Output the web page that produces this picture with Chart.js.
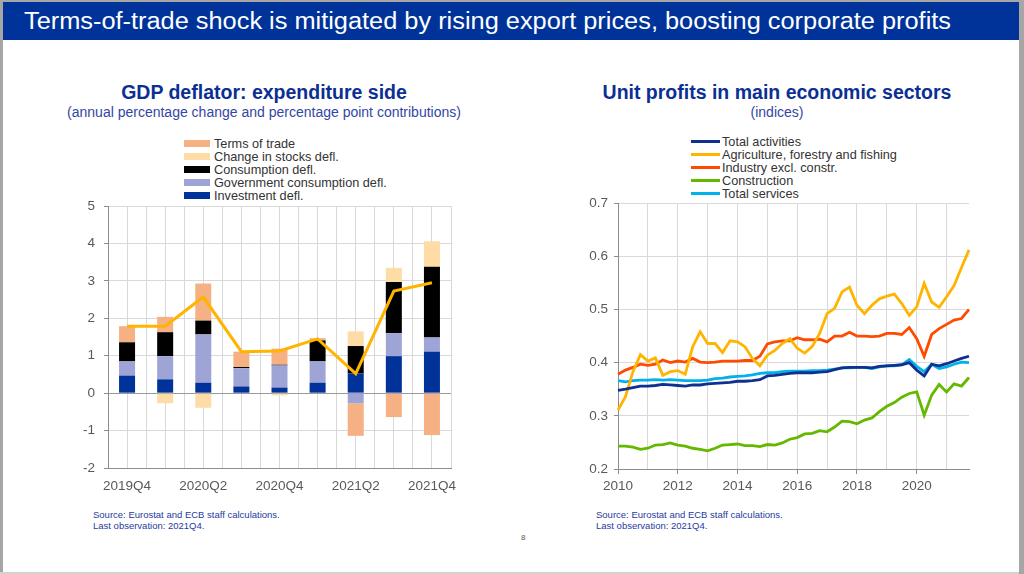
<!DOCTYPE html>
<html>
<head>
<meta charset="utf-8">
<script src="https://cdn.jsdelivr.net/npm/chart.js@4.4.1/dist/chart.umd.min.js"></script>
<style>
  body { margin: 0; width: 1024px; height: 574px; background: #a6a6a6; overflow: hidden;
         font-family: "Liberation Sans", Arial, sans-serif; position: relative; }
  #slide { position: absolute; left: 3px; top: 2px; width: 1016px; height: 570px; background: #fff; }
  #bottomline { position: absolute; left: 0; top: 572px; width: 1019px; height: 2px; background: #d2d2d2; }
  #header { position: absolute; left: 3px; top: 2px; width: 1016px; height: 38px; background: #003399; }
  #headtitle { position: absolute; left: 21px; top: 0; line-height: 38px; color: #fff; font-size: 23px;
               white-space: nowrap; transform-origin: 0 50%; }
  .ctitle { position: absolute; width: 500px; text-align: center; color: #0b2f93; font-weight: bold;
            font-size: 19.5px; white-space: nowrap; }
  .csub { position: absolute; width: 500px; text-align: center; color: #3346a6; font-size: 14px; white-space: nowrap; }
  .legend { position: absolute; font-size: 12.7px; color: #333; }
  .legend div { height: 12.9px; line-height: 12.9px; white-space: nowrap; position: relative; }
  .legend .box { display: inline-block; width: 26px; height: 7px; vertical-align: middle; margin-right: 4px; position: relative; top: -1px; }
  .legend .ln { display: inline-block; width: 29px; height: 3px; vertical-align: middle; margin-right: 2px; position: relative; top: -1px; }
  .note { position: absolute; font-size: 9.5px; line-height: 11px; color: #1f3a9e; white-space: nowrap; }
  canvas { position: absolute; }
  #page { position: absolute; left: 521px; top: 533px; font-size: 8px; color: #555; }
</style>
</head>
<body>
<div id="slide"></div>
<div id="bottomline"></div>
<div id="header"><span id="headtitle">Terms-of-trade shock is mitigated by rising export prices, boosting corporate profits</span></div>

<div class="ctitle" style="left:14px;top:81px;">GDP deflator: expenditure side</div>
<div class="csub" style="left:14px;top:104px;">(annual percentage change and percentage point contributions)</div>
<div class="ctitle" style="left:527px;top:81px;">Unit profits in main economic sectors</div>
<div class="csub" style="left:527px;top:104px;">(indices)</div>

<div class="legend" id="legLeft" style="left:184px;top:138px;"></div>
<div class="legend" id="legRight" style="left:691px;top:136px;"></div>

<canvas id="gdpChart" width="409" height="305" style="left:58px;top:189px;"></canvas>
<canvas id="profitChart" width="405" height="306" style="left:568px;top:189px;"></canvas>

<div class="note" style="left:93px;top:509px;">Source: Eurostat and ECB staff calculations.<br>Last observation: 2021Q4.</div>
<div class="note" style="left:596px;top:509px;">Source: Eurostat and ECB staff calculations.<br>Last observation: 2021Q4.</div>
<div id="page">8</div>

<script>
// ---- left chart: GDP deflator contributions (pp) ----
const quarters = ['2019Q4', '2020Q1', '2020Q2', '2020Q3', '2020Q4', '2021Q1', '2021Q2', '2021Q3', '2021Q4'];
const investment   = [0.47, 0.37, 0.28, 0.18, 0.15, 0.28, 0.53, 0.99, 1.11];
const government   = [0.38, 0.62, 1.29, 0.49, 0.59, 0.57, -0.27, 0.61, 0.38];
const consumption  = [0.51, 0.64, 0.37, 0.03, 0.02, 0.56, 0.73, 1.37, 1.89];
const stocks       = [0.00, -0.27, -0.39, 0.00, -0.06, 0.00, 0.39, 0.38, 0.68];
const termsOfTrade = [0.43, 0.41, 0.99, 0.41, 0.43, 0.06, -0.87, -0.64, -1.12];
const gdpDeflator  = [1.79, 1.79, 2.57, 1.11, 1.13, 1.45, 0.52, 2.73, 2.95];
const gdpTicks = [-2, -1, 0, 1, 2, 3, 4, 5];

// ---- right chart: unit profits (indices), quarterly 2010Q1-2021Q4 ----
const profitYears = [2010, 2011, 2012, 2013, 2014, 2015, 2016, 2017, 2018, 2019, 2020, 2021];
const totalActivities = [0.348, 0.350, 0.353, 0.356, 0.356, 0.357, 0.359, 0.358, 0.357, 0.356, 0.358, 0.358,
                         0.360, 0.361, 0.362, 0.363, 0.365, 0.365, 0.366, 0.368, 0.375, 0.376, 0.378, 0.380,
                         0.381, 0.381, 0.381, 0.382, 0.383, 0.387, 0.390, 0.391, 0.391, 0.391, 0.390, 0.393,
                         0.394, 0.395, 0.396, 0.400, 0.386, 0.375, 0.397, 0.394, 0.398, 0.403, 0.408, 0.412];
const agriculture = [0.311, 0.336, 0.383, 0.415, 0.403, 0.409, 0.376, 0.383, 0.385, 0.378, 0.430, 0.458,
                     0.436, 0.436, 0.419, 0.441, 0.439, 0.430, 0.408, 0.394, 0.414, 0.423, 0.436, 0.445,
                     0.427, 0.418, 0.430, 0.455, 0.492, 0.502, 0.533, 0.542, 0.508, 0.492, 0.508, 0.520,
                     0.525, 0.529, 0.511, 0.489, 0.505, 0.549, 0.514, 0.504, 0.524, 0.545, 0.579, 0.612];
const industry = [0.378, 0.386, 0.391, 0.397, 0.395, 0.397, 0.405, 0.400, 0.403, 0.401, 0.408, 0.401,
                  0.400, 0.401, 0.403, 0.403, 0.403, 0.404, 0.404, 0.412, 0.435, 0.439, 0.441, 0.441,
                  0.447, 0.443, 0.443, 0.444, 0.439, 0.450, 0.450, 0.457, 0.450, 0.450, 0.449, 0.450,
                  0.455, 0.455, 0.453, 0.466, 0.445, 0.412, 0.453, 0.464, 0.472, 0.480, 0.483, 0.500];
const construction = [0.243, 0.243, 0.241, 0.237, 0.239, 0.245, 0.246, 0.249, 0.245, 0.243, 0.239, 0.237,
                      0.234, 0.239, 0.245, 0.246, 0.247, 0.244, 0.244, 0.242, 0.246, 0.245, 0.249, 0.256,
                      0.259, 0.266, 0.267, 0.272, 0.270, 0.279, 0.290, 0.289, 0.285, 0.292, 0.296, 0.308,
                      0.318, 0.325, 0.335, 0.342, 0.345, 0.301, 0.339, 0.359, 0.345, 0.360, 0.356, 0.372];
const services = [0.366, 0.364, 0.366, 0.367, 0.367, 0.368, 0.367, 0.368, 0.367, 0.366, 0.366, 0.366,
                  0.367, 0.370, 0.371, 0.373, 0.374, 0.375, 0.377, 0.380, 0.381, 0.381, 0.383, 0.384,
                  0.384, 0.384, 0.385, 0.385, 0.386, 0.388, 0.390, 0.390, 0.391, 0.391, 0.389, 0.392,
                  0.394, 0.394, 0.396, 0.406, 0.393, 0.383, 0.397, 0.389, 0.392, 0.397, 0.401, 0.400];

const quarterLabels = [];
profitYears.forEach(y => { for (let q = 1; q <= 4; q++) quarterLabels.push(y + 'Q' + q); });

const tickFont = { family: '"Liberation Sans", Arial, sans-serif', size: 13.5 };
const tickGray = '#595959';
const gridGray = '#d9d9d9';
const axisGray = '#8c8c8c';

// bar series, stacked bottom-up in this order
const barSeries = [
    { label: 'Investment defl.', data: investment, color: '#003299' },
    { label: 'Government consumption defl.', data: government, color: '#9ea5d6' },
    { label: 'Consumption defl.', data: consumption, color: '#000000' },
    { label: 'Change in stocks defl.', data: stocks, color: '#fddca6' },
    { label: 'Terms of trade', data: termsOfTrade, color: '#f5b183' }
];

// legend lists the stack top-down
const legLeft = document.getElementById('legLeft');
barSeries.slice().reverse().forEach(s => {
    legLeft.innerHTML += `<div><span class="box" style="background:${s.color}"></span>${s.label}</div>`;
});

const lineSeries = [
    { label: 'Total activities', data: totalActivities, color: '#10308f' },
    { label: 'Agriculture, forestry and fishing', data: agriculture, color: '#ffb400' },
    { label: 'Industry excl. constr.', data: industry, color: '#ff4b00' },
    { label: 'Construction', data: construction, color: '#65b800' },
    { label: 'Total services', data: services, color: '#00b1ea' }
];
const legRight = document.getElementById('legRight');
lineSeries.forEach(s => {
    legRight.innerHTML += `<div><span class="ln" style="background:${s.color}"></span>${s.label}</div>`;
});

// half-quarter slots only used to draw the vertical grid
const halfSlots = [];
quarters.forEach(q => { halfSlots.push(q + 'a'); halfSlots.push(q + 'b'); });

new Chart(document.getElementById('gdpChart'), {
    type: 'bar',
    data: {
        labels: quarters,
        datasets: [
            {
                type: 'line', label: 'GDP deflator', data: gdpDeflator, stack: 'gdp',
                borderColor: '#ffb400', borderWidth: 3, pointRadius: 0, tension: 0, fill: false
            },
            ...barSeries.map(s => ({
                label: s.label, data: s.data, backgroundColor: s.color, stack: 'parts',
                barPercentage: 1, categoryPercentage: 0.42, borderWidth: 0
            }))
        ]
    },
    options: {
        responsive: false,
        animation: false,
        layout: { padding: { top: 0, right: 16, left: 0, bottom: 0 } },
        plugins: { legend: { display: false }, tooltip: { enabled: false } },
        scales: {
            x: {
                stacked: true,
                grid: { display: false, drawTicks: false },
                border: { display: true, color: axisGray },
                ticks: {
                    autoSkip: false, maxRotation: 0, padding: 10, color: tickGray, font: tickFont,
                    callback: (v, i) => i % 2 === 0 ? quarters[i] : ''
                },
                afterFit: s => { s.height = 26; }
            },
            x2: {
                type: 'category', labels: halfSlots, offset: true, position: 'bottom',
                grid: { offset: true, color: gridGray, drawTicks: false },
                ticks: { display: false },
                border: { display: false },
                afterFit: s => { s.height = 0; }
            },
            y: {
                stacked: true, min: -2, max: 5,
                afterBuildTicks: s => { s.ticks = gdpTicks.map(v => ({ value: v })); },
                grid: {
                    color: c => c.tick && c.tick.value === 0 ? '#9a9a9a' : gridGray,
                    tickColor: axisGray, tickLength: 4
                },
                border: { color: axisGray },
                ticks: { padding: 9, color: tickGray, font: tickFont },
                afterFit: s => { s.width = 50; }
            }
        }
    }
});

new Chart(document.getElementById('profitChart'), {
    type: 'line',
    data: {
        labels: quarterLabels,
        datasets: lineSeries.map(s => ({
            label: s.label, data: s.data, borderColor: s.color, borderWidth: 2.8,
            pointRadius: 0, tension: 0, fill: false
        }))
    },
    options: {
        responsive: false,
        animation: false,
        layout: { padding: { top: 0, right: 4, left: 0, bottom: 0 } },
        plugins: { legend: { display: false }, tooltip: { enabled: false } },
        scales: {
            x: {
                grid: {
                    color: c => c.index % 4 === 0 ? gridGray : 'rgba(0,0,0,0)',
                    tickColor: c => c.index % 8 === 0 ? axisGray : 'rgba(0,0,0,0)',
                    tickLength: 5
                },
                border: { color: axisGray },
                ticks: {
                    autoSkip: false, maxRotation: 0, padding: 4, color: tickGray, font: tickFont,
                    callback: (v, i) => i % 8 === 0 ? quarterLabels[i].slice(0, 4) : ''
                },
                afterFit: s => { s.height = 26; }
            },
            y: {
                min: 0.2, max: 0.7,
                ticks: { stepSize: 0.1, padding: 6, color: tickGray, font: tickFont, callback: v => v.toFixed(1) },
                grid: { color: gridGray, tickColor: axisGray, tickLength: 4 },
                border: { color: axisGray },
                afterFit: s => { s.width = 50; }
            }
        }
    }
});

// fit header title to the width it takes in the slide
const ht = document.getElementById('headtitle');
const w = ht.getBoundingClientRect().width;
ht.style.transform = 'scaleX(' + (927 / w).toFixed(4) + ')';
</script>
</body>
</html>
